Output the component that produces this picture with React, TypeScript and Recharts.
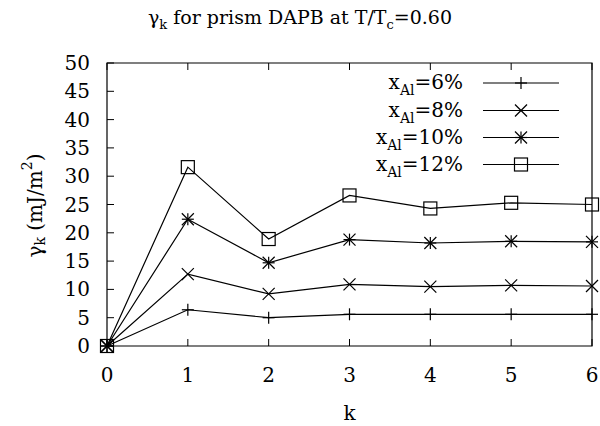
import React from 'react';
import { LineChart, Line, XAxis, YAxis, ReferenceArea } from 'recharts';

const kValues = [0, 1, 2, 3, 4, 5, 6];
const gamma6 = [0, 6.4, 5.0, 5.6, 5.6, 5.6, 5.6];
const gamma8 = [0, 12.7, 9.2, 10.9, 10.5, 10.7, 10.6];
const gamma10 = [0, 22.4, 14.7, 18.8, 18.2, 18.5, 18.4];
const gamma12 = [0, 31.6, 18.9, 26.6, 24.3, 25.3, 25.0];
const yTicks = [0, 5, 10, 15, 20, 25, 30, 35, 40, 45, 50];

const seriesList = [
  { key: 'x6', pct: '6', values: gamma6, marker: 'plus' },
  { key: 'x8', pct: '8', values: gamma8, marker: 'cross' },
  { key: 'x10', pct: '10', values: gamma10, marker: 'star' },
  { key: 'x12', pct: '12', values: gamma12, marker: 'square' },
];

const data = kValues.map((k, i) => {
  const row: Record<string, number> = { k };
  seriesList.forEach((s) => {
    row[s.key] = s.values[i];
  });
  return row;
});

const FONT = 'DejaVu Serif';
const INK = '#000';
const TICK = 7;
const FS = 20;

const Marker = ({ cx, cy, kind }: { cx: number; cy: number; kind: string }) => {
  if (cx == null || cy == null) return null;
  const h = 6;
  const sw = 1.2;
  if (kind === 'plus') {
    return (
      <g stroke={INK} strokeWidth={sw}>
        <line x1={cx - h} y1={cy} x2={cx + h} y2={cy} />
        <line x1={cx} y1={cy - h} x2={cx} y2={cy + h} />
      </g>
    );
  }
  if (kind === 'cross') {
    return (
      <g stroke={INK} strokeWidth={sw}>
        <line x1={cx - h} y1={cy - h} x2={cx + h} y2={cy + h} />
        <line x1={cx - h} y1={cy + h} x2={cx + h} y2={cy - h} />
      </g>
    );
  }
  if (kind === 'star') {
    return (
      <g stroke={INK} strokeWidth={sw}>
        <line x1={cx - h} y1={cy} x2={cx + h} y2={cy} />
        <line x1={cx} y1={cy - h} x2={cx} y2={cy + h} />
        <line x1={cx - h} y1={cy - h} x2={cx + h} y2={cy + h} />
        <line x1={cx - h} y1={cy + h} x2={cx + h} y2={cy - h} />
      </g>
    );
  }
  return (
    <rect x={cx - 6.5} y={cy - 6.5} width={13} height={13} fill="none" stroke={INK} strokeWidth={sw} />
  );
};

// gnuplot-style ticks: tick marks point into the plot
const BottomTick = ({ x, y, payload }: any) => (
  <g>
    <line x1={x} y1={y} x2={x} y2={y - TICK} stroke={INK} strokeWidth={1} />
    <text x={x} y={y + 36} textAnchor="middle" fontFamily={FONT} fontSize={FS} fill={INK}>
      {payload.value}
    </text>
  </g>
);

const TopTick = ({ x, y }: any) => (
  <line x1={x} y1={y} x2={x} y2={y + TICK} stroke={INK} strokeWidth={1} />
);

const LeftTick = ({ x, y, payload }: any) => (
  <g>
    <line x1={x} y1={y} x2={x + TICK} y2={y} stroke={INK} strokeWidth={1} />
    <text x={x - 17} y={y + 7} textAnchor="end" fontFamily={FONT} fontSize={FS} fill={INK}>
      {payload.value}
    </text>
  </g>
);

const RightTick = ({ x, y }: any) => (
  <line x1={x} y1={y} x2={x - TICK} y2={y} stroke={INK} strokeWidth={1} />
);

const YLabel = ({ viewBox }: any) => {
  const cy = viewBox ? viewBox.y + viewBox.height / 2 + 1 : 206;
  const cx = 35;
  return (
    <text
      x={cx}
      y={cy}
      transform={`rotate(-90 ${cx} ${cy})`}
      textAnchor="middle"
      dominantBaseline="central"
      fontFamily={FONT}
      fontSize={FS}
      fill={INK}
    >
      γ<tspan fontSize={14} dy={5}>k</tspan>
      <tspan dy={-5}> (mJ/m</tspan>
      <tspan fontSize={14} dy={-8}>2</tspan>
      <tspan dy={8}>)</tspan>
    </text>
  );
};

const XLabel = ({ viewBox }: any) => {
  const cx = viewBox ? viewBox.x + viewBox.width / 2 : 349;
  return (
    <text x={cx} y={420} textAnchor="middle" fontFamily={FONT} fontSize={FS} fill={INK}>
      k
    </text>
  );
};

const legendRows = [83, 110.5, 137.5, 164.5];

export default function App() {
  return (
    <div style={{ position: 'absolute', left: 0, top: 0, width: 600, height: 426, background: '#fff' }}>
      <LineChart width={600} height={426} data={data} margin={{ top: 62, right: 7, bottom: 0, left: 0 }}>
        <XAxis
          dataKey="k"
          type="number"
          domain={[0, 6]}
          ticks={kValues}
          interval={0}
          height={80}
          axisLine={false}
          tickLine={false}
          tickSize={0}
          tickMargin={0}
          tick={<BottomTick />}
          label={<XLabel />}
        />
        <XAxis
          xAxisId="top"
          orientation="top"
          dataKey="k"
          type="number"
          domain={[0, 6]}
          ticks={kValues}
          interval={0}
          height={1}
          axisLine={false}
          tickLine={false}
          tickSize={0}
          tickMargin={0}
          tick={<TopTick />}
        />
        <YAxis
          type="number"
          domain={[0, 50]}
          ticks={yTicks}
          interval={0}
          width={107}
          axisLine={false}
          tickLine={false}
          tickSize={0}
          tickMargin={0}
          tick={<LeftTick />}
          label={<YLabel />}
        />
        <YAxis
          yAxisId="right"
          orientation="right"
          type="number"
          domain={[0, 50]}
          ticks={yTicks}
          interval={0}
          width={1}
          axisLine={false}
          tickLine={false}
          tickSize={0}
          tickMargin={0}
          tick={<RightTick />}
        />
        <ReferenceArea
          x1={0}
          x2={6}
          y1={0}
          y2={50}
          fill="none"
          fillOpacity={0}
          stroke={INK}
          strokeWidth={1.2}
          ifOverflow="visible"
        />
        {seriesList.map((s) => (
          <Line
            key={s.key}
            dataKey={s.key}
            stroke={INK}
            strokeWidth={1.2}
            isAnimationActive={false}
            activeDot={false}
            dot={(p: any) => <Marker key={`${s.key}-${p.index}`} cx={p.cx} cy={p.cy} kind={s.marker} />}
          />
        ))}
      </LineChart>
      <svg width={600} height={426} style={{ position: 'absolute', left: 0, top: 0, pointerEvents: 'none' }}>
        <text x={300} y={24} textAnchor="middle" fontFamily={FONT} fontSize={19} fill={INK}>
          γ<tspan fontSize={13} dy={5}>k</tspan>
          <tspan dy={-5}> for prism DAPB at T/T</tspan>
          <tspan fontSize={13} dy={5}>c</tspan>
          <tspan dy={-5}>=0.60</tspan>
        </text>
        {seriesList.map((s, i) => {
          const y = legendRows[i];
          return (
            <g key={s.key}>
              <text x={463} y={y + 6} textAnchor="end" fontFamily={FONT} fontSize={FS} fill={INK}>
                x<tspan fontSize={14} dy={6}>Al</tspan>
                <tspan dy={-6}>={s.pct}%</tspan>
              </text>
              <line x1={483} y1={y} x2={559} y2={y} stroke={INK} strokeWidth={1.2} />
              <Marker cx={521} cy={y} kind={s.marker} />
            </g>
          );
        })}
      </svg>
    </div>
  );
}
